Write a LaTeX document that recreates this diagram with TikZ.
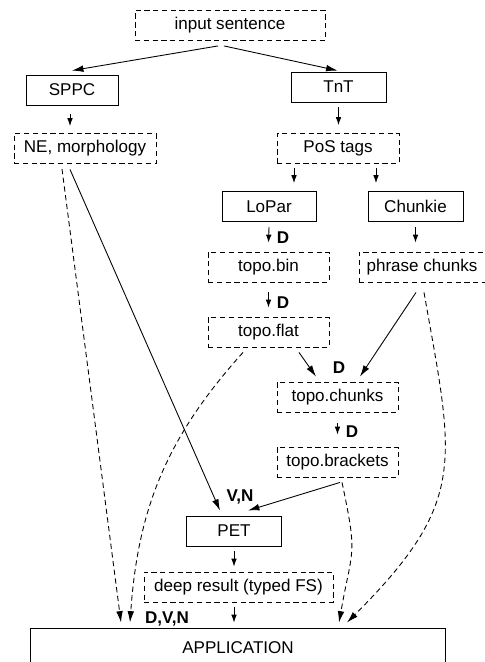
\documentclass[tikz,border=0pt]{standalone}
\usepackage{fontspec}
\setmainfont{Liberation Sans}
\usetikzlibrary{arrows.meta, calc}
\newcommand{\figfont}{\fontsize{9.7pt}{11.6pt}\selectfont}
\tikzset{
    tool/.style={draw, line width=0.5pt, minimum height=0.6cm, inner sep=0pt},
    data/.style={draw, line width=0.5pt, dash pattern=on 3pt off 2pt, minimum height=0.6cm, inner sep=0pt},
    flow/.style={-{Latex[length=4.5pt, width=3.2pt]}, line width=0.5pt},
    longflow/.style={-{Latex[length=6.5pt, width=3.8pt]}, line width=0.5pt},
    feed/.style={longflow, dash pattern=on 3pt off 2pt},
    lbl/.style={font=\figfont\bfseries, inner sep=0pt},
    }

\begin{document}
\begin{tikzpicture}[x=0.02cm, y=0.02cm, font=\figfont]
    \useasboundingbox (0,0) rectangle (484,-662);

    % tools and their outputs
    \node[data, minimum width=3.8cm] (input) at (230,-25.5) {input sentence};

    \node[tool, minimum width=1.84cm] (sppc) at (72,-90) {SPPC};
    \node[data, minimum width=2.84cm] (ne) at (85,-148.5) {NE, morphology};

    \node[tool, minimum width=1.9cm] (tnt) at (338.5,-87) {TnT};
    \node[data, minimum width=2.44cm] (pos) at (338,-148.5) {PoS tags};

    \node[tool, minimum width=1.88cm] (lopar) at (269,-206.5) {LoPar};
    \node[data, minimum width=2.42cm] (bin) at (268.5,-267) {topo.bin};
    \node[data, minimum width=2.42cm] (flat) at (268.5,-332) {topo.flat};

    \node[tool, minimum width=1.9cm] (chunkie) at (415.5,-206.5) {Chunkie};
    \node[data, minimum width=2.52cm] (phrase) at (422,-267) {phrase chunks};

    \node[data, minimum width=2.42cm] (chunks) at (337.5,-397) {topo.chunks};
    \node[data, minimum width=2.42cm] (brackets) at (337.5,-462) {topo.brackets};

    \node[tool, minimum width=1.9cm] (pet) at (234,-531) {PET};
    \node[data, minimum width=3.78cm] (deep) at (238.5,-587) {deep result (typed FS)};

    \node[tool, minimum width=8.3cm, minimum height=0.8cm] (app) at (238,-648) {APPLICATION};

    % labels
    \node[lbl] (dbin) at (283,-238) {D};
    \node[lbl] (dflat) at (283,-303) {D};
    \node[lbl] (dchunks) at (339,-368) {D};
    \node[lbl] (dbrackets) at (352,-432) {D};
    \node[lbl] (vn) at (240,-497) {V,N};
    \node[lbl] (dvn) at (167,-619) {D,V,N};

    % processing flow
    \draw[longflow] ($(input.south)+(-12,-5)$) -- ($(sppc.north)+(0,4)$);
    \draw[longflow] ($(input.south)+(-6,-5)$) -- ($(tnt.north)+(-1,1)$);
    \draw[flow] ($(sppc.south)+(-2,-9)$) -- ($(sppc.south |- ne.north)+(-2,7)$);
    \draw[flow] ($(tnt.south)+(0,-5)$) -- ($(tnt.south |- pos.north)+(0,8)$);
    \draw[flow] ($(pos.south)+(-44,-4)$) -- ($(lopar.north)+(25,8)$);
    \draw[flow] ($(pos.south)+(38,-4)$) -- ($(chunkie.north)+(-39.5,8)$);
    \draw[flow] ($(lopar.south)+(0,-5)$) -- ($(bin.north)+(0,9)$);
    \draw[flow] ($(bin.south)+(0,-10)$) -- ($(flat.north)+(0,9)$);
    \draw[flow] ($(chunkie.south)+(0,-5)$) -- ($(chunkie.south |- phrase.north)+(0,9)$);
    \draw[longflow] ($(flat.south)+(30.5,-5)$) -- ($(chunks.north)+(-21.5,5)$);
    \draw[longflow] ($(phrase.south)+(-6,-10)$) -- ($(chunks.north)+(22.5,5)$);
    \draw[flow] ($(chunks.south)+(0,-11)$) -- ($(brackets.north)+(0,12)$);
    \draw[longflow] ($(brackets.south)+(2.5,-5)$) -- ($(pet.north)+(14,5)$);
    \draw[longflow] ($(ne.south)+(-15,-5.5)$) -- ($(pet.north)+(-14,5)$);
    \draw[flow] ($(pet.south)+(0,-5)$) -- ($(pet.south |- deep.north)+(0,5)$);
    \draw[flow] ($(pet.south |- deep.south)+(0,-5)$) -- ($(pet.south |- app.north)+(0,5)$);

    % shallow results fed to the application
    \draw[feed] ($(ne.south)+(-23,-5)$) -- ($(app.north)+(-117,5)$);
    \draw[feed] ($(flat.south)+(-25.5,-5)$) to[out=-132, in=86] ($(app.north)+(-108,5)$);
    \draw[feed] ($(brackets.south)+(4.5,-5)$) to[out=-78, in=80, looseness=1.4] ($(app.north)+(101,5)$);
    \draw[feed] ($(phrase.south)+(2,-10)$) to[out=-80, in=45, looseness=1.3] ($(app.north)+(109,5)$);

\end{tikzpicture}
\end{document}
